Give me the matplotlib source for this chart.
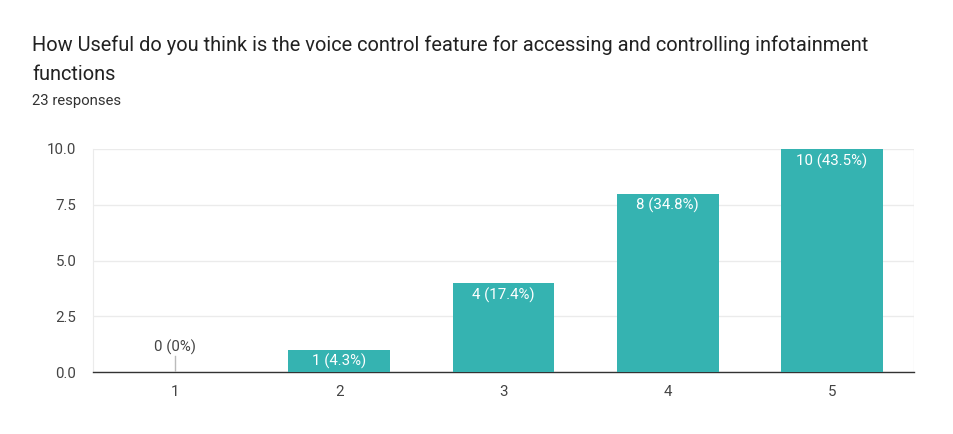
import matplotlib
matplotlib.use("Agg")
import matplotlib.pyplot as plt

categories = ["1", "2", "3", "4", "5"]
counts = [0, 1, 4, 8, 10]
labels = ["0 (0%)", "1 (4.3%)", "4 (17.4%)", "8 (34.8%)", "10 (43.5%)"]
yticks = [0.0, 2.5, 5.0, 7.5, 10.0]
title_lines = ["How Useful do you think is the voice control feature for accessing and controlling infotainment",
               "functions"]
subtitle = "23 responses"

plt.rcParams['font.family'] = ['Roboto', 'DejaVu Sans']

fig = plt.figure(figsize=(9.54, 4.34), dpi=100)
ax = fig.add_axes([93/954, 1-372/434, (914-93)/954, (372-149)/434])

x = list(range(len(categories)))
color = "#35B3B1"
ax.bar(x, counts, width=0.62, color=color, zorder=3)
ax.set_xlim(-0.5, 4.5)
ax.set_ylim(0, 10)
ax.set_yticks(yticks)
ax.set_yticklabels([f"{v:.1f}" for v in yticks])
ax.set_xticks(x)
ax.set_xticklabels(categories)
ax.tick_params(axis='both', length=0, labelsize=10.8, colors="#444444")
ax.tick_params(axis='x', pad=9)
ax.tick_params(axis='y', pad=12)
ax.grid(axis='y', color="#ebebeb", linewidth=1, zorder=0)
for s in ["top", "right"]:
    ax.spines[s].set_visible(False)
ax.spines["left"].set_color("#ebebeb")
ax.spines["bottom"].set_color("#333333")
ax.spines["bottom"].set_linewidth(1)
ax.axvline(4.5, color="#ebebeb", linewidth=1, zorder=0)

for xi, c, lab in zip(x, counts, labels):
    if c == 0:
        ax.plot([xi, xi], [0, 0.7], color="#bbbbbb", linewidth=1, zorder=4)
        ax.text(xi, 0.75, lab, ha="center", va="bottom", fontsize=10.8, color="#444444")
    else:
        ax.text(xi, c - 0.2, lab, ha="center", va="top", fontsize=10.8, color="white", zorder=5)

fig.text(32/954, 1-45/434, title_lines[0], ha="left", va="center", fontsize=14.4, color="#222222")
fig.text(32/954, 1-74/434, title_lines[1], ha="left", va="center", fontsize=14.4, color="#222222")
fig.text(32/954, 1-101/434, subtitle, ha="left", va="center", fontsize=10.7, color="#333333")

fig.savefig("out.png", dpi=100, facecolor="white")
